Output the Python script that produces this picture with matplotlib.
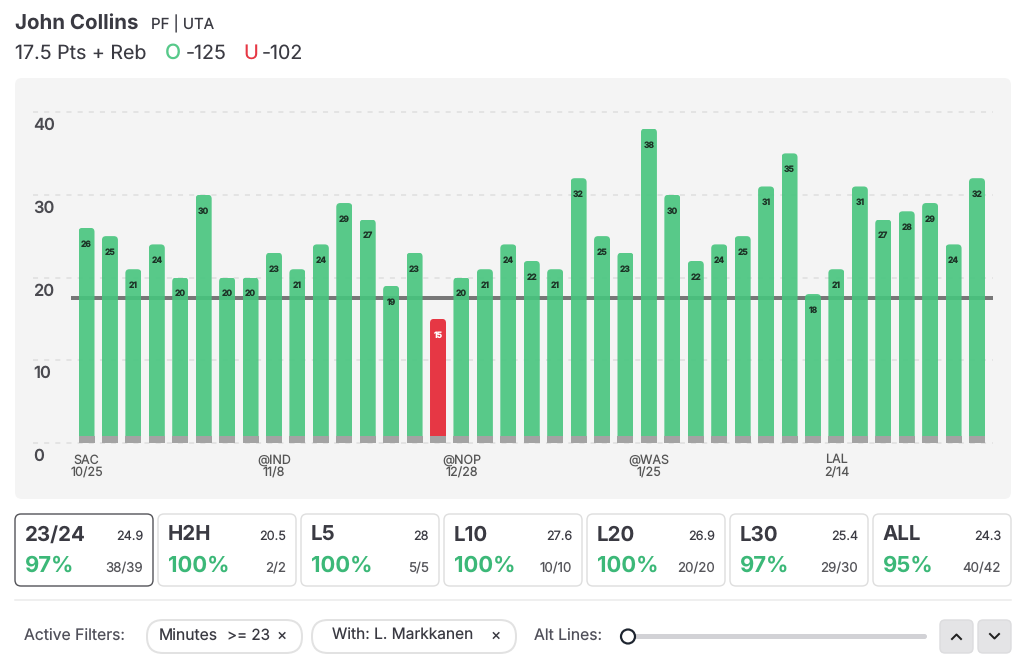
import matplotlib
matplotlib.use("Agg")
import matplotlib.pyplot as plt
from matplotlib.patches import FancyBboxPatch, Circle

plt.rcParams['font.family'] = ['Inter', 'DejaVu Sans']
plt.rcParams['text.hinting'] = 'no_hinting'
plt.rcParams['text.hinting_factor'] = 1

W, H = 1024, 661

# game log
values = [26, 25, 21, 24, 20, 30, 20, 20, 23, 21, 24, 29, 27, 19, 23, 15, 20, 21, 24, 22,
          21, 32, 25, 23, 38, 30, 22, 24, 25, 31, 35, 18, 21, 31, 27, 28, 29, 24, 32]
prop_line = 17.5
y_ticks = [0, 10, 20, 30, 40]
x_tick_pos = [0, 8, 16, 24, 32]
x_tick_labels = ["SAC\n10/25", "@IND\n11/8", "@NOP\n12/28", "@WAS\n1/25", "LAL\n2/14"]

# hit rate cards
card_names = ["23/24", "H2H", "L5", "L10", "L20", "L30", "ALL"]
card_avgs = ["24.9", "20.5", "28", "27.6", "26.9", "25.4", "24.3"]
card_pcts = ["97%", "100%", "100%", "100%", "100%", "97%", "95%"]
card_counts = ["38/39", "2/2", "5/5", "10/10", "20/20", "29/30", "40/42"]

GREEN = "#47C57E"
RED = "#E63744"
DARK = "#3A3A42"
PCT_GREEN = "#3CB878"

fig = plt.figure(figsize=(W / 100, H / 100), dpi=100, facecolor="white")

# page overlay in pixel coords
ui = fig.add_axes([0, 0, 1, 1], zorder=0)
ui.set_xlim(0, W)
ui.set_ylim(H, 0)
ui.axis("off")


def box(x0, y0, x1, y1, r, fc, ec="none", lw=1.0):
    ui.add_patch(FancyBboxPatch((x0, y0), x1 - x0, y1 - y0,
                                boxstyle="round,pad=0,rounding_size=%s" % r,
                                fc=fc, ec=ec, lw=lw))


def px(size):
    return size * 0.72


# header
ui.text(15, 23, "John Collins", fontsize=px(20.5), fontweight="bold", color=DARK, va="center")
ui.text(151, 24, "PF | UTA", fontsize=px(15), color=DARK, va="center")
ui.text(15, 53.5, "17.5 Pts + Reb", fontsize=px(19.6), color=DARK, va="center")
ui.text(173, 53.5, "O", fontsize=px(21), fontweight="medium", color="#57C98A", ha="center", va="center")
ui.text(186, 53.5, "-125", fontsize=px(19.6), color=DARK, va="center")
ui.text(243, 53.5, "U", fontsize=px(20), color=RED, va="center")
ui.text(262, 53.5, "-102", fontsize=px(19.6), color=DARK, va="center")

# chart panel
box(15, 78, 1011, 499, 7, "#F4F4F4")

# chart axes, placed so y=0 is at 443px and y=40 at 112px
y_scale = (443 - 112) / 40
x_step = (977 - 86.5) / 38
ax_left, ax_right = 33, 993
ax_bottom, ax_top = 443 + y_scale, 112 - y_scale
ax = fig.add_axes([ax_left / W, 1 - ax_bottom / H, (ax_right - ax_left) / W, (ax_bottom - ax_top) / H], zorder=1)
ax.patch.set_alpha(0)
ax.set_xlim((ax_left - 86.5) / x_step, (ax_right - 86.5) / x_step)
ax.set_ylim(-1, 41)
for s in ax.spines.values():
    s.set_visible(False)

ax.set_yticks(y_ticks)
ax.set_yticklabels([])
ax.yaxis.grid(True, color="#DEDEDE", lw=1.1, linestyle=(0, (3.3, 4.0)), zorder=0)
ax.set_axisbelow(True)
ax.set_xticks(x_tick_pos)
ax.set_xticklabels(x_tick_labels, fontsize=px(12.5), color="#555555", linespacing=1.12)
ax.tick_params(axis="both", length=0)
ax.tick_params(axis="x", pad=2)

for v in y_ticks:
    ax.annotate(str(v), (0, v), xycoords=ax.get_yaxis_transform(), xytext=(0, px(-13.5)),
                textcoords="offset points", ha="left", va="center",
                fontsize=px(16.5), fontweight="semibold", color="#4A4A50")

# line sits behind the slightly see-through bars
ax.plot([(71 - 86.5) / x_step, (ax_right - 86.5) / x_step], [prop_line, prop_line],
        color="#777777", lw=px(4), solid_capstyle="butt", zorder=1.5)

xs = list(range(len(values)))
colors = [GREEN if v > prop_line else RED for v in values]
bar_w = 16 / x_step
bars = ax.bar(xs, values, width=bar_w, color=colors, alpha=0.9, zorder=2)
ax.bar(xs, [0.9] * len(values), width=bar_w, color="#A3A3A3", zorder=3)

# rounded tops
radius = 4 / x_step
aspect = x_step / y_scale
for b, c, v in zip(bars, colors, values):
    if c == RED:
        b.set_alpha(1)
    clip = FancyBboxPatch(b.get_xy(), b.get_width(), b.get_height(),
                          boxstyle="round,pad=0,rounding_size=%s" % radius,
                          mutation_aspect=aspect, transform=ax.transData,
                          fc="none", ec="none")
    ax.add_patch(clip)
    b.set_clip_path(clip)
    ax.annotate(str(v), (b.get_x() + b.get_width() / 2, v), xytext=(0, px(-16.5)),
                textcoords="offset points", ha="center", va="center",
                fontsize=px(8.5), fontweight="bold",
                color="white" if c == RED else "#1C3326", zorder=4)

# stat cards
for i, name in enumerate(card_names):
    x0 = 15 + 143 * i
    x1 = x0 + 138
    if i == 0:
        box(x0, 514, x1, 586, 6, "white", ec="#55555A", lw=px(1.4))
    else:
        box(x0, 514, x1, 586, 6, "white", ec="#DEDEDE", lw=px(1.4))
    ui.text(x0 + 10, 535, name, fontsize=px(20.5), fontweight="bold", color=DARK, va="center")
    ui.text(x1 - 10, 536, card_avgs[i], fontsize=px(12.6), color=DARK, ha="right", va="center")
    ui.text(x0 + 10, 566, card_pcts[i], fontsize=px(22), fontweight="bold", color=PCT_GREEN, va="center")
    ui.text(x1 - 10, 568, card_counts[i], fontsize=px(13.3), color="#55555A", ha="right", va="center")

# divider
ui.plot([15, 1011], [600, 600], color="#EBEBEB", lw=px(1.5))

# filters row
ui.text(24, 636, "Active Filters:", fontsize=px(15.7), color="#50505A", va="center")
box(147, 620, 302, 653, 16, "white", ec="#E2E2E2", lw=px(2))
ui.text(159, 636, "Minutes", fontsize=px(15.7), color=DARK, va="center")
ui.text(227, 636, ">= 23", fontsize=px(15.2), color=DARK, va="center")
ui.text(282, 636, "\u00d7", fontsize=px(15.5), color=DARK, ha="center", va="center")
box(312, 620, 516, 653, 16, "white", ec="#E2E2E2", lw=px(2))
ui.text(332, 636, "With: L. Markkanen", fontsize=px(15.5), color=DARK, va="center")
ui.text(496, 636, "\u00d7", fontsize=px(15.5), color=DARK, ha="center", va="center")

# alt lines slider
ui.text(534, 636, "Alt Lines:", fontsize=px(15.7), color="#50505A", va="center")
box(628, 634, 927, 639, 2.5, "#D2D2D6")
ui.add_patch(Circle((628, 636.5), 7, fc="white", ec="#1E2530", lw=px(2.2), zorder=5))

# up/down buttons
box(940, 620, 973, 653, 5, "#E4E4E6", ec="#DCDCDE")
box(978, 620, 1011, 653, 5, "#E4E4E6", ec="#DCDCDE")
ui.plot([952, 956.5, 961], [639, 634.5, 639], color="#222222", lw=px(2))
ui.plot([990, 994.5, 999], [634, 638.5, 634], color="#222222", lw=px(2))

fig.savefig("out.png", dpi=100)
